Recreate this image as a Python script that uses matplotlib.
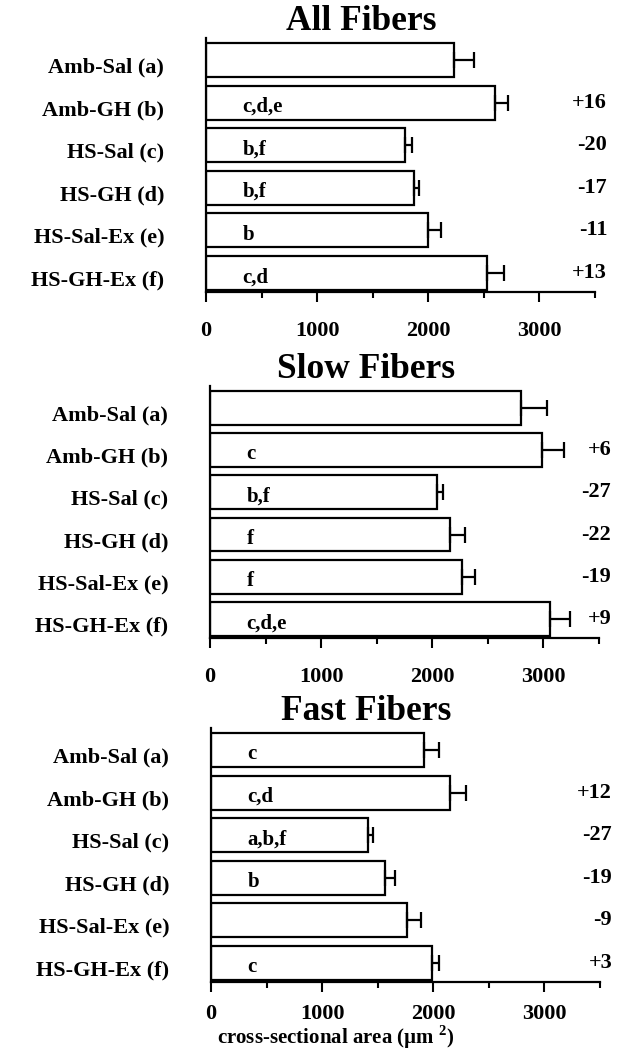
import numpy as np
import matplotlib
matplotlib.use("Agg")
import matplotlib.pyplot as plt
from matplotlib.ticker import MultipleLocator
from matplotlib.transforms import ScaledTranslation

plt.rcParams['font.family'] = ['Liberation Serif', 'DejaVu Serif']
plt.rcParams['font.weight'] = 'bold'
plt.rcParams['mathtext.fontset'] = 'custom'
plt.rcParams['mathtext.rm'] = 'Liberation Serif'
plt.rcParams['mathtext.bf'] = 'Liberation Serif:bold'

groups = ['Amb-Sal (a)', 'Amb-GH (b)', 'HS-Sal (c)', 'HS-GH (d)',
          'HS-Sal-Ex (e)', 'HS-GH-Ex (f)']

titles = ['All Fibers', 'Slow Fibers', 'Fast Fibers']

# mean cross-sectional area and SE (um^2)
all_mean = [2230, 2600, 1790, 1870, 2000, 2530]
all_err = [180, 120, 60, 50, 110, 150]
slow_mean = [2800, 2990, 2040, 2160, 2270, 3060]
slow_err = [235, 195, 60, 130, 115, 175]
fast_mean = [1920, 2150, 1410, 1565, 1765, 1985]
fast_err = [130, 140, 50, 90, 125, 65]

# significance letters inside bars
all_sig = ['', 'c,d,e', 'b,f', 'b,f', 'b', 'c,d']
slow_sig = ['', 'c', 'b,f', 'f', 'f', 'c,d,e']
fast_sig = ['c', 'c,d', 'a,b,f', 'b', '', 'c']

# percent change vs Amb-Sal
all_pct = ['', '+16', '-20', '-17', '-11', '+13']
slow_pct = ['', '+6', '-27', '-22', '-19', '+9']
fast_pct = ['', '+12', '-27', '-19', '-9', '+3']

means = [all_mean, slow_mean, fast_mean]
errs = [all_err, slow_err, fast_err]
sigs = [all_sig, slow_sig, fast_sig]
pcts = [all_pct, slow_pct, fast_pct]

W, H = 623, 1058
fig = plt.figure(figsize=(W / 100, H / 100), dpi=100)

# axes boxes in pixels: left, top, bottom
boxes = [(206, 38, 292), (210, 386, 638), (211, 728, 982)]
tick_pads = [14, 14, 9]
axw = 389

y = np.arange(len(groups))
for k in range(3):
    l, t, b = boxes[k]
    ax = fig.add_axes([l / W, 1 - b / H, axw / W, (b - t) / H])
    ax.barh(y, means[k], height=0.8, color='white', edgecolor='black',
            linewidth=1.6)
    ax.errorbar(means[k], y, xerr=[np.zeros(6), errs[k]], fmt='none',
                ecolor='black', elinewidth=1.6, capsize=6, capthick=1.6)
    for i in range(6):
        if sigs[k][i]:
            ax.text(330, i + 0.1, sigs[k][i], ha='left', va='center',
                    fontsize=15, fontweight='bold')
        if pcts[k][i]:
            ax.text(3610, i, pcts[k][i], ha='right', va='center',
                    fontsize=16, fontweight='bold', clip_on=False)
    ax.set_xlim(0, 3500)
    ax.set_ylim(5.45, -0.52)
    ax.set_yticks(y)
    ax.set_yticklabels(groups, fontsize=16, fontweight='bold')
    ax.tick_params(axis='y', length=0, pad=30)
    shift = ScaledTranslation(0, -5 / 100, fig.dpi_scale_trans)
    for lab in ax.get_yticklabels():
        lab.set_transform(lab.get_transform() + shift)
    ax.xaxis.set_major_locator(MultipleLocator(1000))
    ax.xaxis.set_minor_locator(MultipleLocator(500))
    ax.set_xticks([0, 1000, 2000, 3000])
    ax.tick_params(axis='x', which='major', direction='out', length=7,
                   width=1.5, labelsize=16, pad=tick_pads[k])
    ax.tick_params(axis='x', which='minor', direction='out', length=4,
                   width=1.5)
    for lab in ax.get_xticklabels():
        lab.set_fontweight('bold')
    ax.spines['top'].set_visible(False)
    ax.spines['right'].set_visible(False)
    ax.spines['left'].set_linewidth(1.6)
    ax.spines['bottom'].set_linewidth(1.6)
    ax.text(0.40, 1.03, titles[k], transform=ax.transAxes, ha='center',
            va='baseline', fontsize=25.5)
    if k == 2:
        ax.text(1125, -0.245, 'cross-sectional area (\u00b5m $^{2}$)',
                transform=ax.get_xaxis_transform(), ha='center',
                va='baseline', fontsize=15)

fig.savefig('out.png', dpi=100)
